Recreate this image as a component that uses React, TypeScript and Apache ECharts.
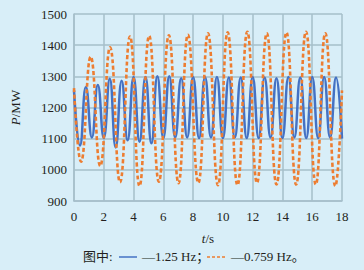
import React, { useEffect, useRef } from "react";
import * as echarts from "echarts";

// Blue series (1.25 Hz): times of extrema (s) and values (MW)
const blueT = [0, 0.4, 0.8, 1.2, 1.6, 2.0, 2.4, 2.8, 3.2, 3.6, 4.0, 4.4, 4.8, 5.2, 5.6, 6.0, 6.4, 6.8, 7.2, 7.6, 8.0, 8.4, 8.8, 9.2, 9.6, 10.0, 10.4, 10.8, 11.2, 11.6, 12.0, 12.4, 12.8, 13.2, 13.6, 14.0, 14.4, 14.8, 15.2, 15.6, 16.0, 16.4, 16.8, 17.2, 17.6, 18.0];
const blueV = [1255, 1078, 1266, 1104, 1272, 1102, 1292, 1072, 1286, 1095, 1298, 1090, 1298, 1085, 1300, 1102, 1300, 1104, 1294, 1104, 1298, 1102, 1298, 1104, 1298, 1102, 1296, 1104, 1296, 1102, 1298, 1102, 1296, 1104, 1294, 1102, 1298, 1104, 1296, 1102, 1298, 1102, 1298, 1104, 1296, 1100];

// Orange series (0.759 Hz): times of extrema (s) and values (MW)
const orangeT = [0, 0.47, 1.12, 1.76, 2.42, 3.09, 3.76, 4.4, 5.05, 5.7, 6.37, 7.02, 7.65, 8.35, 9.0, 9.67, 10.32, 10.98, 11.64, 12.29, 12.95, 13.6, 14.27, 14.92, 15.58, 16.24, 16.88, 17.55, 18.0];
const orangeV = [1262, 1026, 1363, 1012, 1393, 960, 1428, 948, 1430, 962, 1432, 957, 1433, 958, 1438, 951, 1441, 951, 1443, 958, 1438, 953, 1441, 953, 1443, 953, 1438, 948, 1255];

const seriesNames = ["1.25 Hz", "0.759 Hz"];
const xMin = 0, xMax = 18, xStep = 2;
const yMin = 900, yMax = 1500, yStep = 100;

const BLUE = "#4472c4";
const ORANGE = "#ed7d31";
const GRIDC = "#a6bfca";
const SERIF = '"Liberation Serif", "Times New Roman", serif';
const MIXED = '"Liberation Serif", "Noto Sans CJK SC", serif';

export default function App() {
  const ref = useRef<HTMLDivElement>(null);
  useEffect(() => {
    if (!ref.current) return;
    const chart = echarts.init(ref.current, undefined, { renderer: "svg" });
    const txt = "#231f20";
    chart.setOption({
      animation: false,
      backgroundColor: "#d8eef8",
      grid: { left: 74, right: 22, top: 14, bottom: 69 },
      xAxis: {
        type: "value",
        min: xMin,
        max: xMax,
        interval: xStep,
        name: "{i|t}/s",
        nameLocation: "middle",
        nameGap: 31,
        nameTextStyle: { fontFamily: SERIF, fontSize: 13, color: txt, rich: { i: { fontStyle: "italic", fontFamily: SERIF, fontSize: 13, color: txt } } },
        axisLine: { show: true, lineStyle: { color: GRIDC, width: 1.5 } },
        axisTick: { show: false },
        axisLabel: { fontFamily: SERIF, fontSize: 13, color: txt, margin: 9, formatter: (v: number) => String(v) },
        splitLine: { show: true, lineStyle: { color: GRIDC, width: 1.5 } },
      },
      yAxis: {
        type: "value",
        min: yMin,
        max: yMax,
        interval: yStep,
        name: "{i|P}/MW",
        nameLocation: "middle",
        nameGap: 52,
        nameRotate: 90,
        nameTextStyle: { fontFamily: SERIF, fontSize: 13, color: txt, rich: { i: { fontStyle: "italic", fontFamily: SERIF, fontSize: 13, color: txt } } },
        axisLine: { show: true, lineStyle: { color: GRIDC, width: 1.5 } },
        axisTick: { show: false },
        axisLabel: { fontFamily: SERIF, fontSize: 13, color: txt, margin: 7, formatter: (v: number) => String(v) },
        splitLine: { show: true, lineStyle: { color: GRIDC, width: 1.5 } },
      },
      series: [
        {
          name: seriesNames[0],
          type: "line",
          data: blueT.map((t, i) => [t, blueV[i]]),
          smooth: 0.5,
          symbol: "none",
          lineStyle: { color: BLUE, width: 2.5 },
          z: 3,
        },
        {
          name: seriesNames[1],
          type: "line",
          data: orangeT.map((t, i) => [t, orangeV[i]]),
          smooth: 0.5,
          symbol: "none",
          lineStyle: { color: ORANGE, width: 2.6, type: [4, 2.5] },
          z: 4,
        },
      ],
      graphic: [
        { type: "text", left: 83, top: 250, style: { text: "图中:", font: `13px ${MIXED}`, fill: txt } },
        { type: "line", shape: { x1: 119, y1: 257, x2: 137, y2: 257 }, style: { stroke: BLUE, lineWidth: 1.5 } },
        { type: "text", left: 142, top: 250, style: { text: "—1.25 Hz；", font: `13px ${MIXED}`, fill: txt } },
        { type: "line", shape: { x1: 207, y1: 257, x2: 227, y2: 257 }, style: { stroke: ORANGE, lineWidth: 1.5, lineDash: [3, 2] } },
        { type: "text", left: 231, top: 250, style: { text: "—0.759 Hz。", font: `13px ${MIXED}`, fill: txt } },
      ],
    });
    return () => chart.dispose();
  }, []);
  return (
    <div
      ref={ref}
      style={{ position: "fixed", left: 0, top: 0, width: 364, height: 270, background: "#d8eef8" }}
    />
  );
}
